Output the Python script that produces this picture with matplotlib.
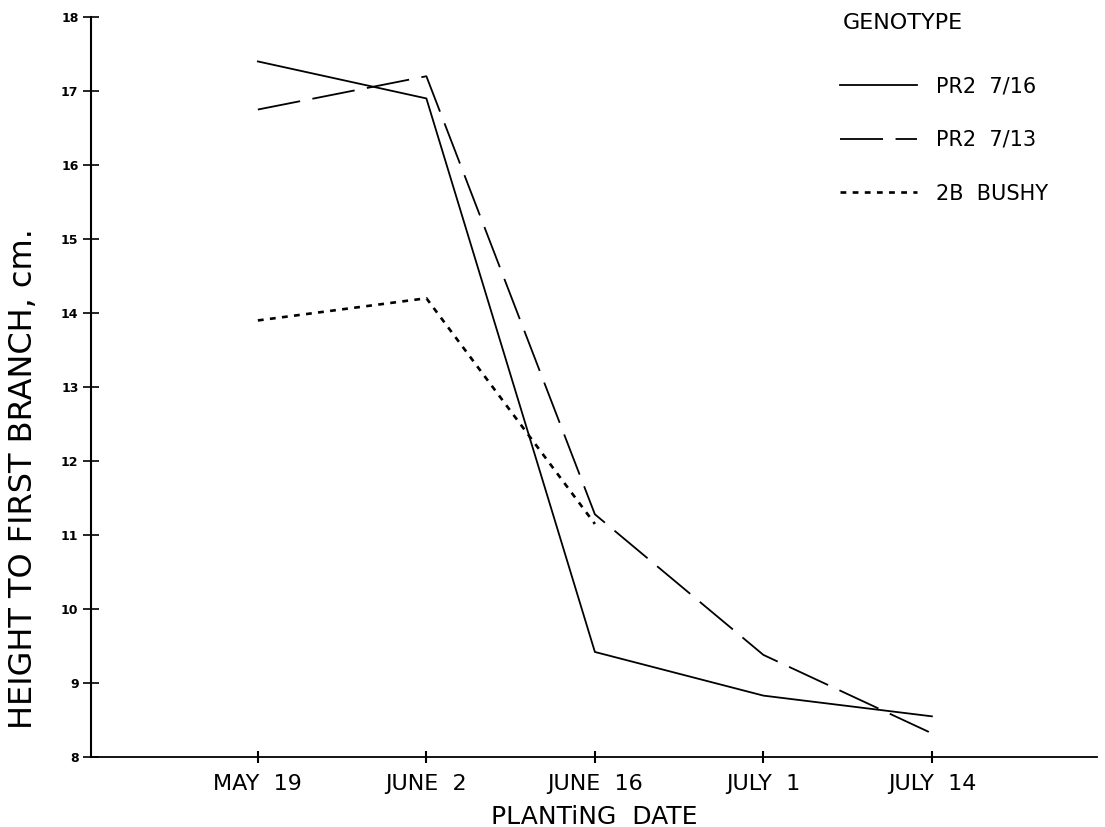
import matplotlib
matplotlib.use("Agg")
import matplotlib.pyplot as plt

# planting dates (category positions 1..5)
dates = ['MAY  19', 'JUNE  2', 'JUNE  16', 'JULY  1', 'JULY  14']
pos = [1, 2, 3, 4, 5]

# height to first branch, cm
pr2_716 = [17.4, 16.9, 9.42, 8.83, 8.55]
pr2_713 = [16.75, 17.2, 11.28, 9.38, 8.32]
bushy_2b = [13.9, 14.2, 11.15]

fig = plt.figure(figsize=(11.05, 8.27), dpi=100)
ax = fig.add_axes([0.0824, 0.0846, 0.9104, 0.8948])

lw = 1.3
ax.plot(pos, pr2_716, color='black', lw=lw, label='PR2  7/16')
ax.plot(pos, pr2_713, color='black', lw=lw,
        linestyle=(0, (31 / lw, 9 / lw)), label='PR2  7/13')
ax.plot(pos[:3], bushy_2b, color='black', lw=1.9,
        linestyle=(0, (2.2, 2.4)), label='2B  BUSHY')

ax.set_xlim(0.01, 5.98)
ax.set_ylim(8, 18)
ax.set_yticks(range(8, 19))
ax.set_xticks(pos)
ax.set_xticklabels(dates, fontsize=16)

for lab in ax.get_yticklabels():
    lab.set_fontsize(9)
    lab.set_fontweight('bold')

ax.tick_params(axis='y', direction='inout', length=12, width=1.2, pad=3)
ax.tick_params(axis='x', direction='inout', length=8, width=1.5, pad=8)

ax.spines['top'].set_visible(False)
ax.spines['right'].set_visible(False)
ax.spines['left'].set_linewidth(1.5)
ax.spines['bottom'].set_linewidth(1.3)

ax.set_xlabel('PLANTiNG  DATE', fontsize=18, labelpad=8)
fig.text(0.021, 0.421, 'HEIGHT TO FIRST BRANCH, cm.', rotation=90,
         ha='center', va='center', fontsize=23)

# legend title placed on its own, entries below it
fig.text(0.763, 0.972, 'GENOTYPE', fontsize=16, ha='left', va='center')
leg = ax.legend(loc='center left', bbox_to_anchor=(0.726, 0.834),
                frameon=False, fontsize=15, handlelength=3.7,
                handletextpad=0.9, labelspacing=1.62)

fig.savefig('out.png', dpi=100)
